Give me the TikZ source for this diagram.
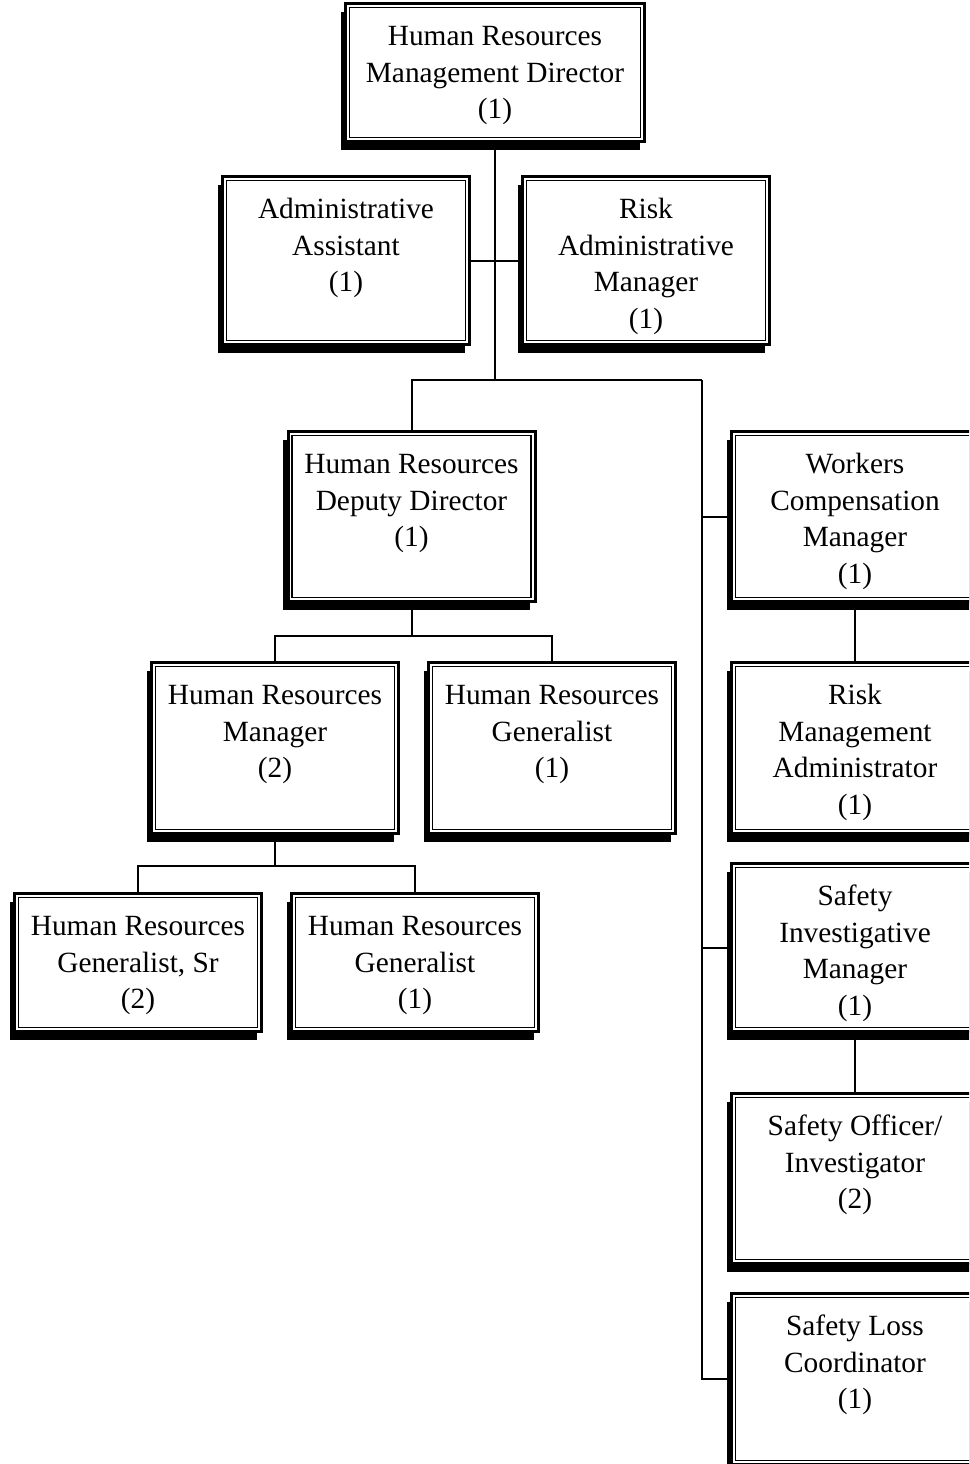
\documentclass[tikz,border=0pt]{standalone}
\usepackage{fontspec}
\setmainfont{Liberation Serif}
\usetikzlibrary{shadows}
\newlength{\pxu}\setlength{\pxu}{0.375pt}
\newcommand{\post}[3]{\parbox[t][#2\pxu][t]{#1\pxu}{\centering\rule{0pt}{15.8pt}#3}}
\tikzset{
  box/.style={draw,fill=white,line width=1.125pt,inner sep=0pt,outer sep=0pt,
    general shadow={fill=black,shadow xshift=-1.875pt,shadow yshift=-3pt},
    font=\fontsize{11pt}{13.7pt}\selectfont},
  rim/.style={line width=0.45pt},
  link/.style={line width=0.75pt}
}
\begin{document}
\begin{tikzpicture}[x=0.375pt,y=-0.375pt]
\useasboundingbox (0,0) rectangle (969,1464);
\clip (0,0) rectangle (969,1464);
\node[box] (dir) at (495,72.5) {\post{299}{138}{Human Resources\\Management Director\\(1)}};
\node[box] (asst) at (346,260.5) {\post{247}{168}{Administrative\\Assistant\\(1)}};
\node[box] (risk) at (646,260.5) {\post{247}{168}{Risk\\Administrative\\Manager\\(1)}};
\node[box] (dep) at (411.5,516.5) {\post{247}{170}{Human Resources\\Deputy Director\\(1)}};
\node[box] (wc) at (855,516.5) {\post{247}{170}{Workers\\Compensation\\Manager\\(1)}};
\node[box] (hrm) at (275,748) {\post{247}{171}{Human Resources\\Manager\\(2)}};
\node[box] (gen) at (552,748) {\post{247}{171}{Human Resources\\Generalist\\(1)}};
\node[box] (rma) at (855,748) {\post{247}{171}{Risk\\Management\\Administrator\\(1)}};
\node[box] (srg) at (138,962.5) {\post{247}{138}{Human Resources\\Generalist, Sr\\(2)}};
\node[box] (gen2) at (415,962.5) {\post{247}{138}{Human Resources\\Generalist\\(1)}};
\node[box] (inv) at (855,947.5) {\post{247}{168}{Safety\\Investigative\\Manager\\(1)}};
\node[box] (off) at (855,1178.5) {\post{247}{170}{Safety Officer/\\Investigator\\(2)}};
\node[box] (loss) at (855,1379) {\post{247}{171}{Safety Loss\\Coordinator\\(1)}};
\foreach \n in {dir,asst,risk,dep,wc,hrm,gen,rma,srg,gen2,inv,off,loss}
  \draw[rim] ([shift={(4,4)}]\n.north west) rectangle ([shift={(-4,-4)}]\n.south east);
\coordinate (bus) at (702,380);
\coordinate (split1) at (411.5,636);
\coordinate (split2) at (275,866);
\draw[link] (asst.east) -- (risk.west);
\draw[link] (dir.south) |- (bus);
\draw[link] (dir.south |- bus) -| (dep.north);
\draw[link] (bus) |- (loss.west);
\draw[link] (bus |- wc.west) -- (wc.west);
\draw[link] (bus |- inv.west) -- (inv.west);
\draw[link] (wc.south) -- (rma.north);
\draw[link] (inv.south) -- (off.north);
\draw[link] (dep.south) -- (split1);
\draw[link] (hrm.north) |- (split1) -| (gen.north);
\draw[link] (hrm.south) -- (split2);
\draw[link] (srg.north) |- (split2) -| (gen2.north);
\end{tikzpicture}
\end{document}
